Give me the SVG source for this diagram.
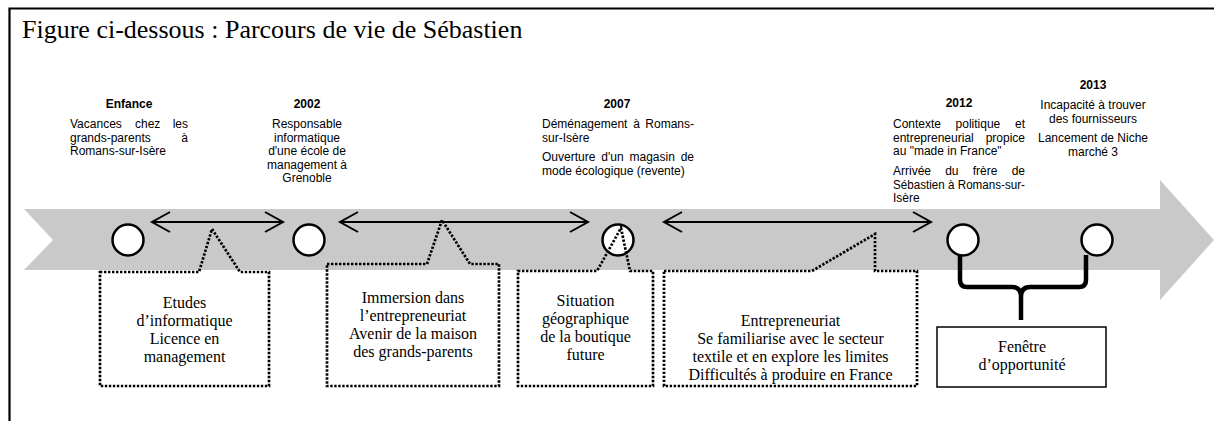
<svg xmlns="http://www.w3.org/2000/svg" width="1214" height="421" viewBox="0 0 1214 421">
<style>
.sm{font-family:"Liberation Sans",Arial,sans-serif;font-size:12px;fill:#000}
.b{font-weight:bold}
.c{text-anchor:middle}
.e{text-anchor:end}
.tm{font-family:"Liberation Serif","Times New Roman",serif;font-size:16px;fill:#000;text-anchor:middle}
.dot{fill:none;stroke:#000;stroke-width:2.7;stroke-dasharray:2.4 1.6}
.circ{fill:#fff;stroke:#000;stroke-width:2.5}
.arr{fill:none;stroke:#000;stroke-width:2}
</style>
<rect x="0" y="0" width="1214" height="421" fill="#fff"/>
<g id="frame">
<path d="M9.5,421 V8.5 H1214" fill="none" stroke="#000" stroke-width="2.2"/>
<text x="22" y="38" font-family="'Liberation Serif','Times New Roman',serif" font-size="26">Figure ci-dessous : Parcours de vie de Sébastien</text>
</g>
<g id="timeline">
<polygon points="24,209 1160,209 1160,180 1214,240 1160,300 1160,270 24,270 53,240" fill="#c9c9c9"/>
</g>
<g id="connectors">
<path class="arr" d="M152,222 H283 M170,212 L152,222 L170,232 M265,212 L283,222 L265,232"/>
<path class="arr" d="M340,222 H588 M358,212 L340,222 L358,232 M570,212 L588,222 L570,232"/>
<path class="arr" d="M664,222 H931 M682,212 L664,222 L682,232 M913,212 L931,222 L913,232"/>
<path d="M960,253 V280 Q960,287 967,287 H1012 Q1021,287 1021,297 V320 M1086,255 V280 Q1086,287 1079,287 H1030 Q1021,287 1021,297" fill="none" stroke="#000" stroke-width="4.5"/>
</g>
<g id="node-enfance">
<circle class="circ" cx="128" cy="240" r="15.5"/>
<text class="sm b c" x="129" y="108">Enfance</text>
<text class="sm" x="70" y="128">Vacances</text>
<text class="sm" x="135" y="128">chez</text>
<text class="sm e" x="188" y="128">les</text>
<text class="sm" x="70" y="141.5">grands-parents</text>
<text class="sm e" x="188" y="141.5">à</text>
<text class="sm" x="70" y="155">Romans-sur-Isère</text>
</g>
<g id="node-2002">
<circle class="circ" cx="309" cy="240" r="15.5"/>
<text class="sm b c" x="307" y="108">2002</text>
<text class="sm c" x="307" y="128">Responsable</text>
<text class="sm c" x="307" y="141.5">informatique</text>
<text class="sm c" x="307" y="155">d'une école de</text>
<text class="sm c" x="307" y="168.5">management à</text>
<text class="sm c" x="307" y="182">Grenoble</text>
</g>
<g id="node-2007">
<circle class="circ" cx="618" cy="240" r="15.5"/>
<text class="sm b c" x="617" y="108">2007</text>
<text class="sm" x="542" y="128">Déménagement</text>
<text class="sm c" x="636.5" y="128">à</text>
<text class="sm e" x="694" y="128">Romans-</text>
<text class="sm" x="542" y="141.5">sur-Isère</text>
<text class="sm" x="542" y="161">Ouverture</text>
<text class="sm" x="601.3" y="161">d'un</text>
<text class="sm" x="629.5" y="161">magasin</text>
<text class="sm e" x="694" y="161">de</text>
<text class="sm" x="542" y="174.5">mode écologique (revente)</text>
</g>
<g id="node-2012">
<circle class="circ" cx="963" cy="240" r="15.5"/>
<text class="sm b c" x="959" y="107">2012</text>
<text class="sm" x="893" y="128">Contexte</text>
<text class="sm" x="955.6" y="128">politique</text>
<text class="sm e" x="1025" y="128">et</text>
<text class="sm" x="893" y="141.5">entrepreneurial</text>
<text class="sm e" x="1025" y="141.5">propice</text>
<text class="sm" x="893" y="155">au "made in France"</text>
<text class="sm" x="893" y="175">Arrivée</text>
<text class="sm" x="945.2" y="175">du</text>
<text class="sm" x="972.7" y="175">frère</text>
<text class="sm e" x="1025" y="175">de</text>
<text class="sm" x="893" y="188.5" textLength="132" lengthAdjust="spacingAndGlyphs">Sébastien à Romans-sur-</text>
<text class="sm" x="893" y="202">Isère</text>
</g>
<g id="node-2013">
<circle class="circ" cx="1097" cy="240" r="15.5"/>
<text class="sm b c" x="1093" y="89">2013</text>
<text class="sm c" x="1093" y="109">Incapacité à trouver</text>
<text class="sm c" x="1093" y="122.5">des fournisseurs</text>
<text class="sm c" x="1093" y="142">Lancement de Niche</text>
<text class="sm c" x="1093" y="155.5">marché 3</text>
</g>
<g id="callout-etudes">
<path class="dot" d="M100,272 H199 L212,229 L240,272 H269 V386 H100 Z"/>
<text class="tm" x="184.5" y="308">Etudes</text>
<text class="tm" x="184.5" y="326">d’informatique</text>
<text class="tm" x="184.5" y="344">Licence en</text>
<text class="tm" x="184.5" y="362">management</text>
</g>
<g id="callout-immersion">
<path class="dot" d="M327,264 H427 L442,220 L470,264 H499 V386 H327 Z"/>
<text class="tm" x="413" y="303">Immersion dans</text>
<text class="tm" x="413" y="321">l’entrepreneuriat</text>
<text class="tm" x="413" y="339">Avenir de la maison</text>
<text class="tm" x="413" y="357">des grands-parents</text>
</g>
<g id="callout-situation">
<path class="dot" d="M518,271 H597 L621,228 L630,271 H653 V386 H518 Z"/>
<text class="tm" x="585.5" y="306">Situation</text>
<text class="tm" x="585.5" y="324">géographique</text>
<text class="tm" x="585.5" y="342">de la boutique</text>
<text class="tm" x="585.5" y="360">future</text>
</g>
<g id="callout-entrepreneuriat">
<path class="dot" d="M664,271 H812 L875,234 V271 H917 V386 H664 Z"/>
<text class="tm" x="790.5" y="326">Entrepreneuriat</text>
<text class="tm" x="790.5" y="344">Se familiarise avec le secteur</text>
<text class="tm" x="790.5" y="362">textile et en explore les limites</text>
<text class="tm" x="790.5" y="380">Difficultés à produire en France</text>
</g>
<g id="node-fenetre">
<rect x="937" y="327" width="169" height="60" fill="#fff" stroke="#000" stroke-width="1.5"/>
<text class="tm" x="1022" y="352">Fenêtre</text>
<text class="tm" x="1022" y="370">d’opportunité</text>
</g>
</svg>
